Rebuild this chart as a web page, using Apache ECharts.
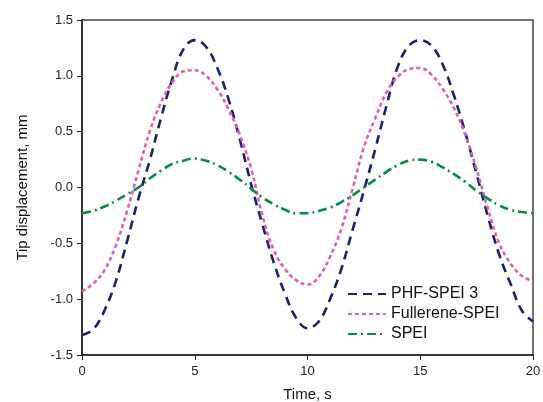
<!DOCTYPE html>
<html><head><meta charset="utf-8">
<script src="https://cdn.jsdelivr.net/npm/echarts@6/dist/echarts.min.js"></script>
<style>html,body{margin:0;padding:0;background:#fff}#c{width:543px;height:402px}</style>
</head><body><div id="c"></div>
<script>
var times = [0,0.5,1,1.5,2,2.5,3,3.5,4,4.5,5,5.5,6,6.5,7,7.5,8,8.5,9,9.5,10,10.5,11,11.5,12,12.5,13,13.5,14,14.5,15,15.5,16,16.5,17,17.5,18,18.5,19,19.5,20];
var phf = [-1.32,-1.27,-1.10,-0.84,-0.48,-0.10,0.24,0.62,0.97,1.24,1.32,1.26,1.07,0.79,0.43,0.03,-0.33,-0.67,-0.95,-1.17,-1.26,-1.20,-1.00,-0.73,-0.38,-0.03,0.34,0.73,1.08,1.27,1.32,1.27,1.10,0.82,0.49,0.12,-0.26,-0.60,-0.86,-1.10,-1.20];
var fullerene = [-0.93,-0.86,-0.74,-0.52,-0.21,0.15,0.50,0.76,0.94,1.04,1.05,1.00,0.88,0.70,0.47,0.17,-0.25,-0.56,-0.73,-0.83,-0.87,-0.80,-0.62,-0.37,-0.01,0.36,0.62,0.85,0.99,1.06,1.07,1.01,0.88,0.71,0.47,0.16,-0.19,-0.50,-0.68,-0.79,-0.84];
var spei = [-0.23,-0.21,-0.17,-0.12,-0.06,0.00,0.08,0.15,0.21,0.24,0.26,0.24,0.20,0.14,0.07,-0.01,-0.09,-0.15,-0.20,-0.23,-0.23,-0.21,-0.18,-0.13,-0.07,0.00,0.07,0.14,0.20,0.24,0.25,0.23,0.18,0.12,0.05,-0.03,-0.10,-0.16,-0.20,-0.22,-0.23];
var seriesNames = ['PHF-SPEI 3','Fullerene-SPEI','SPEI'];
var xTitle = 'Time, s';
var yTitle = 'Tip displacement, mm';

function pairs(vals){ return times.map(function(t,i){ return [t, vals[i]]; }); }
var font = 'Liberation Sans, Arial, sans-serif';
var chart = echarts.init(document.getElementById('c'), null, {renderer:'canvas'});
chart.setOption({
  animation:false,
  backgroundColor:'#fff',
  grid:{left:82,right:10,top:20,bottom:47,show:true,borderColor:'#444',borderWidth:1.5,containLabel:false,outerBoundsMode:'none'},
  legend:{
    orient:'vertical', left:342, top:281, itemGap:4, itemWidth:38, itemHeight:16,
    itemStyle:{opacity:0},
    textStyle:{fontFamily:font,fontSize:16,color:'#111'},
    data:seriesNames
  },
  xAxis:{
    type:'value', min:0, max:20, interval:5,
    name:xTitle, nameLocation:'middle', nameGap:32,
    nameTextStyle:{fontFamily:font,fontSize:15,color:'#111'},
    axisLine:{show:true,onZero:false,lineStyle:{color:'#222',width:1.5}},
    axisTick:{show:true,length:5,lineStyle:{color:'#222'}},
    axisLabel:{fontFamily:font,fontSize:13,color:'#222',margin:10},
    splitLine:{show:false}
  },
  yAxis:{
    type:'value', min:-1.5, max:1.5, interval:0.5,
    name:yTitle, nameLocation:'middle', nameGap:52,
    nameTextStyle:{fontFamily:font,fontSize:15,color:'#111'},
    axisLine:{show:true,onZero:false,lineStyle:{color:'#222',width:1.5}},
    axisTick:{show:true,length:5,lineStyle:{color:'#222'}},
    axisLabel:{fontFamily:font,fontSize:13,color:'#222',margin:9,formatter:function(v){return v.toFixed(1);}},
    splitLine:{show:false}
  },
  series:[
    {name:seriesNames[0],type:'line',data:pairs(phf),smooth:0.4,symbol:'none',
     lineStyle:{color:'#1b2266',width:2.6,type:[9,6]},itemStyle:{color:'#1b2266'}},
    {name:seriesNames[1],type:'line',data:pairs(fullerene),smooth:0.4,symbol:'none',
     lineStyle:{color:'#df5fb0',width:2.6,type:[4,3]},itemStyle:{color:'#df5fb0'}},
    {name:seriesNames[2],type:'line',data:pairs(spei),smooth:0.4,symbol:'none',
     lineStyle:{color:'#0b8a45',width:2.6,type:[9,4,2,4]},itemStyle:{color:'#0b8a45'}}
  ]
});
</script></body></html>
